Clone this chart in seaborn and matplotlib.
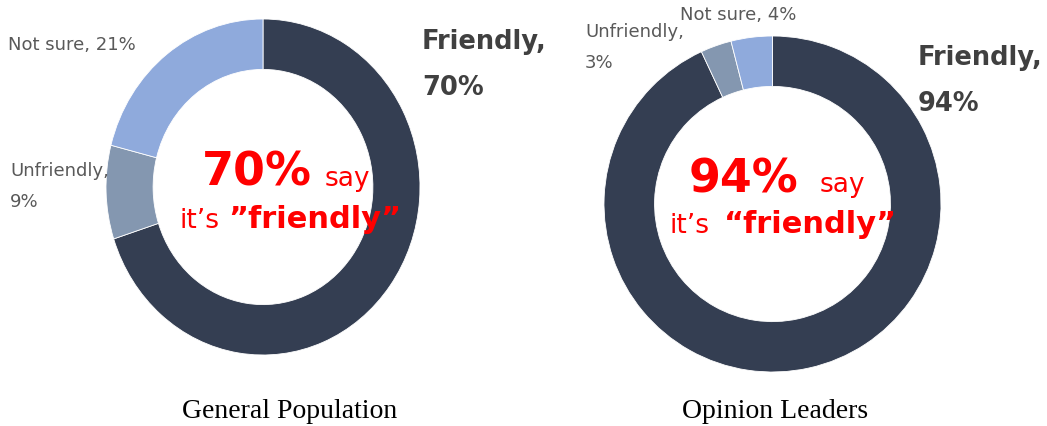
import matplotlib
matplotlib.use('Agg')
import matplotlib.pyplot as plt
import seaborn as sns

# data
categories = ['Friendly', 'Unfriendly', 'Not sure']
general_values = [70, 9, 21]
leaders_values = [94, 3, 4]
panel_titles = ['General Population', 'Opinion Leaders']
colors = ['#343e52', '#8497b0', '#8faadc']

sns.set_theme(style='white')
plt.rcParams['font.family'] = ['DejaVu Sans']

W, H = 1047, 426
fig = plt.figure(figsize=(W / 100, H / 100), dpi=100)


def px_axes(x0, y0, x1, y1):
    return fig.add_axes([x0 / W, 1 - y1 / H, (x1 - x0) / W, (y1 - y0) / H])


def ptext(x, y, s, **kw):
    # place text by pixel position (x left, y baseline from top)
    kw.setdefault('va', 'baseline')
    kw.setdefault('ha', 'left')
    fig.text(x / W, 1 - y / H, s, **kw)


def donut(ax, values):
    ax.pie(values, colors=colors, startangle=90, counterclock=False,
           wedgeprops=dict(width=0.3, edgecolor='white', linewidth=0.6))
    ax.set_aspect('auto')
    ax.set_xlim(-1, 1)
    ax.set_ylim(-1, 1)
    ax.axis('off')


### Left: General Population
ax1 = px_axes(106, 19, 420, 355)
donut(ax1, general_values)

### Right: Opinion Leaders
ax2 = px_axes(604, 36, 941, 372)
donut(ax2, leaders_values)

gray = '#595959'
dark = '#404040'
red = '#ff0000'

# segment labels - left
ptext(8, 50, f'{categories[2]}, {general_values[2]}%', fontsize=13, color=gray)
ptext(10, 176, f'{categories[1]},', fontsize=13, color=gray)
ptext(10, 207, f'{general_values[1]}%', fontsize=13, color=gray)
ptext(422, 49, f'{categories[0]},', fontsize=18.5, color=dark, fontweight='bold')
ptext(422, 95, f'{general_values[0]}%', fontsize=18.5, color=dark, fontweight='bold')

# segment labels - right
ptext(680, 20, f'{categories[2]}, {leaders_values[2]}%', fontsize=13, color=gray)
ptext(585, 37, f'{categories[1]},', fontsize=13, color=gray)
ptext(585, 68, f'{leaders_values[1]}%', fontsize=13, color=gray)
ptext(918, 65, f'{categories[0]},', fontsize=18.5, color=dark, fontweight='bold')
ptext(918, 111, f'{leaders_values[0]}%', fontsize=18.5, color=dark, fontweight='bold')

# centre messages
ptext(202, 186, f'{general_values[0]}%', fontsize=33, color=red, fontweight='bold')
ptext(325, 186, 'say', fontsize=19, color=red)
ptext(180, 228, 'it\u2019s', fontsize=19, color=red)
ptext(228, 228, '\u201dfriendly\u201d', fontsize=22, color=red, fontweight='bold')

ptext(689, 192, f'{leaders_values[0]}%', fontsize=33, color=red, fontweight='bold')
ptext(820, 192, 'say', fontsize=19, color=red)
ptext(670, 233, 'it\u2019s', fontsize=19, color=red)
ptext(724, 233, '\u201cfriendly\u201d', fontsize=22, color=red, fontweight='bold')

# panel titles
ptext(290, 418, panel_titles[0], fontsize=20, family='Liberation Serif', ha='center', color='black')
ptext(775, 418, panel_titles[1], fontsize=20, family='Liberation Serif', ha='center', color='black')

fig.savefig('out.png', dpi=100, facecolor='white')
